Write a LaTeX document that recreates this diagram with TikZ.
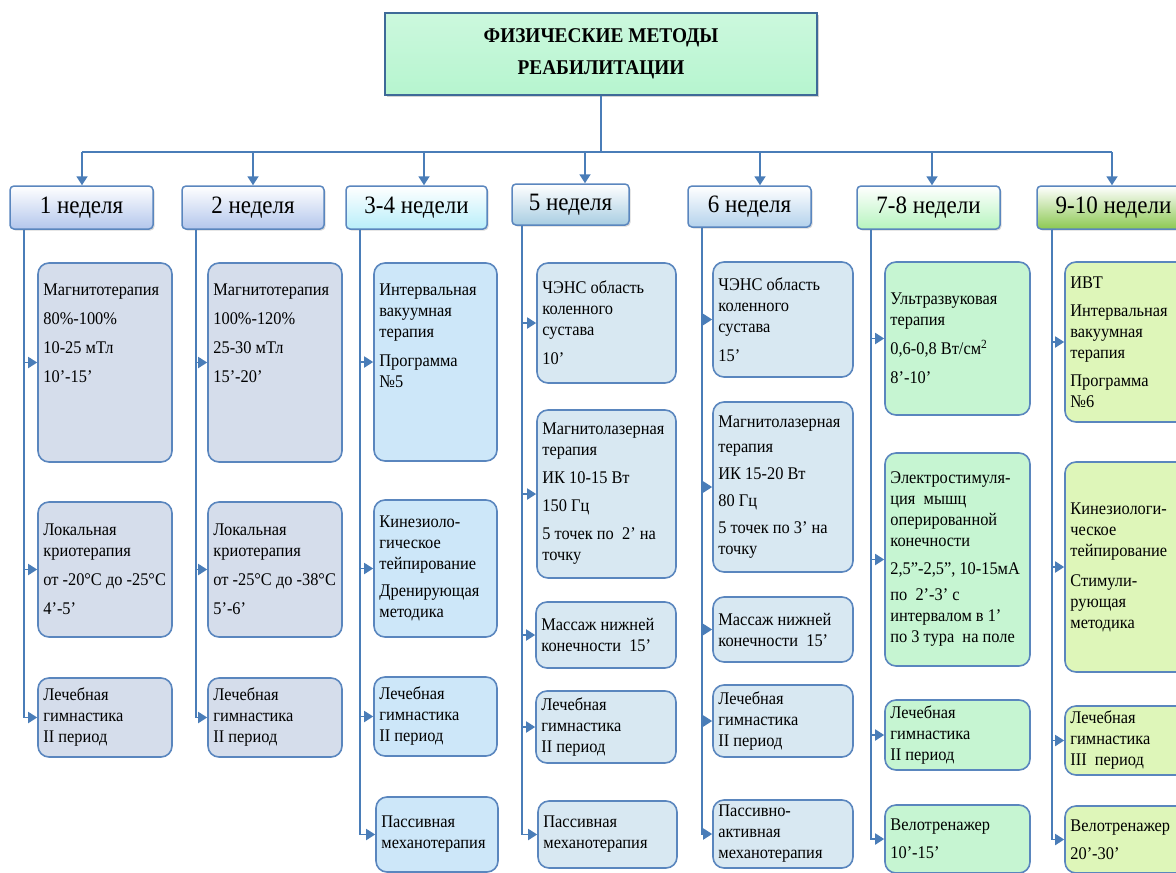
\documentclass[tikz,border=0pt]{standalone}
\usepackage{fontspec}
\setmainfont{Liberation Serif}[FakeStretch=0.92]
\usetikzlibrary{arrows.meta,shadows}
\definecolor{ln}{HTML}{4A7DB8}
\definecolor{bord}{HTML}{5A86BE}
\definecolor{titlefill}{HTML}{B6F5CF}
\definecolor{titlebord}{HTML}{3E6A98}
\definecolor{fA}{HTML}{D5DDEB}
\definecolor{fB}{HTML}{CDE7F9}
\definecolor{fC}{HTML}{D8E8F2}
\definecolor{fD}{HTML}{C6F5D2}
\definecolor{fE}{HTML}{DEF6B9}
\definecolor{wA}{HTML}{B3C6EC}
\definecolor{wB}{HTML}{B8EEFA}
\definecolor{wC}{HTML}{A8CDE2}
\definecolor{wD}{HTML}{B4D2EC}
\definecolor{wE}{HTML}{B6F4BE}
\definecolor{wF}{HTML}{8CC852}
\tikzset{
  conn/.style={draw=ln, line width=1.8pt},
  arr/.style={conn, -{Triangle[width=11pt,length=9pt]}},
  cbox/.style={draw=bord, line width=1.6pt, rounded corners=11pt, inner sep=0pt},
  wbox/.style={draw=bord, line width=1.5pt, rounded corners=4pt, inner sep=0pt,
     drop shadow={shadow xshift=1.5pt, shadow yshift=-1.5pt, opacity=0.3}},
  txt/.style={inner sep=0pt, align=left, font=\fontsize{17.8}{21}\selectfont},
  wtxt/.style={font=\fontsize{25}{29}\selectfont},
}
\newcommand\cbx[7]{%
  \node[cbox, fill=#6, minimum width={#4-#2}, minimum height={#5-#3}] (#1) at ({(#2+#4)/2},{(#3+#5)/2}) {};
  \node[txt, anchor=west] (#1t) at ([xshift=6pt]#1.west) {#7};}
\newcommand\tbx[7]{%
  \node[cbox, fill=#6, minimum width={#4-#2}, minimum height={#5-#3}] (#1) at ({(#2+#4)/2},{(#3+#5)/2}) {};
  \node[txt, anchor=north west] (#1t) at ([shift={(6pt,-21pt)}]#1.north west) {#7};}
\newcommand\wbx[7]{%
  \node[wbox, top color=white, bottom color=#6, minimum width={#4-#2}, minimum height={#5-#3}, wtxt] (#1) at ({(#2+#4)/2},{(#3+#5)/2}) {#7};}
\begin{document}
\begin{tikzpicture}[x=1pt,y=-1pt]
\useasboundingbox (0,0) rectangle (1176,873);
% title
\node[draw=titlebord, line width=2.5pt, top color=titlefill!70!white, bottom color=titlefill, minimum width=432, minimum height=82, align=center,
  font=\fontsize{21}{32}\selectfont\bfseries, drop shadow={shadow xshift=2pt, shadow yshift=-2pt, opacity=0.35}] (title) at (601,54)
  {ФИЗИЧЕСКИЕ МЕТОДЫ\\РЕАБИЛИТАЦИИ};
% week boxes
\wbx{w1}{10}{186}{153}{229}{wA}{1 неделя}
\wbx{w2}{182}{186}{324}{229}{wA}{2 неделя}
\wbx{w3}{346}{186}{487}{229}{wB}{3-4 недели}
\wbx{w5}{512}{184}{629}{225}{wC}{5 неделя}
\wbx{w6}{688}{186}{811}{227}{wD}{6 неделя}
\wbx{w7}{857}{186}{1000}{229}{wE}{7-8 недели}
\wbx{w9}{1037}{186}{1190}{229}{wF}{9-10 недели}
% bus
\coordinate (busL) at (82,152);
\coordinate (busR) at (1112,152);
\draw[conn] (busL) -- (busR);
\draw[conn] (title.south) -- (title.south |- busL);
\coordinate (d1) at (82,152);
\coordinate (d2) at (253,152);
\coordinate (d3) at (424,152);
\coordinate (d5) at (585,152);
\coordinate (d6) at (760,152);
\coordinate (d7) at (932,152);
\coordinate (d9) at (1112,152);
\draw[arr] (d1) -- (d1 |- w1.north);
\draw[arr] (d2) -- (d2 |- w2.north);
\draw[arr] (d3) -- (d3 |- w3.north);
\draw[arr] (d5) -- (d5 |- w5.north);
\draw[arr] (d6) -- (d6 |- w6.north);
\draw[arr] (d7) -- (d7 |- w7.north);
\draw[arr] (d9) -- (d9 |- w9.north);
% column 1
\tbx{c1a}{38}{263}{172}{462}{fA}{Магнитотерапия\\[8pt]80\%-100\%\\[8pt]10-25 мТл\\[8pt]10’-15’}
\cbx{c1b}{38}{502}{172}{637}{fA}{Локальная\\криотерапия\\[8pt]от -20°C до -25°C\\[8pt]4’-5’}
\cbx{c1c}{38}{678}{172}{757}{fA}{Лечебная\\гимнастика\\II период}
% column 2
\tbx{c2a}{208}{263}{342}{462}{fA}{Магнитотерапия\\[8pt]100\%-120\%\\[8pt]25-30 мТл\\[8pt]15’-20’}
\cbx{c2b}{208}{502}{342}{637}{fA}{Локальная\\криотерапия\\[8pt]от -25°C до -38°C\\[8pt]5’-6’}
\cbx{c2c}{208}{678}{342}{757}{fA}{Лечебная\\гимнастика\\II период}
% column 3
\tbx{c3a}{374}{263}{497}{461}{fB}{Интервальная\\вакуумная\\терапия\\[8pt]Программа\\№5}
\cbx{c3b}{374}{500}{497}{637}{fB}{Кинезиоло-\\гическое\\тейпирование\\[6pt]Дренирующая\\методика}
\cbx{c3c}{374}{677}{497}{756}{fB}{Лечебная\\гимнастика\\II период}
\cbx{c3d}{376}{797}{498}{872}{fB}{Пассивная\\механотерапия}
% column 5
\cbx{c5a}{537}{263}{676}{383}{fC}{ЧЭНС область\\коленного\\сустава\\[8pt]10’}
\cbx{c5b}{537}{410}{676}{578}{fC}{Магнитолазерная\\терапия\\[7pt]ИК 10-15 Вт\\[7pt]150 Гц\\[7pt]5 точек по\ \ 2’ на\\точку}
\cbx{c5c}{536}{602}{676}{668}{fC}{Массаж нижней\\конечности\ \ 15’}
\cbx{c5d}{536}{691}{676}{763}{fC}{Лечебная\\гимнастика\\II период}
\cbx{c5e}{538}{801}{677}{868}{fC}{Пассивная\\механотерапия}
% column 6
\cbx{c6a}{713}{262}{853}{377}{fC}{ЧЭНС область\\коленного\\сустава\\[8pt]15’}
\cbx{c6b}{713}{402}{853}{572}{fC}{Магнитолазерная\\[4pt]терапия\\[6pt]ИК 15-20 Вт\\[6pt]80 Гц\\[6pt]5 точек по 3’ на\\точку}
\cbx{c6c}{713}{597}{853}{662}{fC}{Массаж нижней\\конечности\ \ 15’}
\cbx{c6d}{713}{685}{853}{757}{fC}{Лечебная\\гимнастика\\II период}
\cbx{c6e}{713}{800}{853}{868}{fC}{Пассивно-\\активная\\механотерапия}
% column 7-8
\cbx{c7a}{885}{262}{1030}{415}{fD}{Ультразвуковая\\терапия\\[8pt]0,6-0,8 Вт/см\textsuperscript{2}\\[8pt]8’-10’}
\cbx{c7b}{885}{453}{1030}{666}{fD}{Электростимуля-\\ция\ \ мышц\\оперированной\\конечности\\[7pt]2,5”-2,5”, 10-15мА\\[5pt]по\ \ 2’-3’ с\\интервалом в 1’\\по 3 тура\ \ на поле}
\cbx{c7c}{885}{700}{1030}{770}{fD}{Лечебная\\гимнастика\\II период}
\cbx{c7d}{885}{805}{1030}{873}{fD}{Велотренажер\\[7pt]10’-15’}
% column 9-10
\cbx{c9a}{1065}{262}{1190}{422}{fE}{ИВТ\\[7pt]Интервальная\\вакуумная\\терапия\\[7pt]Программа\\№6}
\cbx{c9b}{1065}{462}{1190}{672}{fE}{Кинезиологи-\\ческое\\тейпирование\\[9pt]Стимули-\\рующая\\методика}
\cbx{c9c}{1065}{706}{1190}{775}{fE}{Лечебная\\гимнастика\\III\ \ период}
\cbx{c9d}{1065}{806}{1190}{873}{fE}{Велотренажер\\[7pt]20’-30’}
% stems
\coordinate (s1) at (24,0);
\coordinate (s2) at (196,0);
\coordinate (s3) at (360,0);
\coordinate (s5) at (522,0);
\coordinate (s6) at (702,0);
\coordinate (s7) at (871,0);
\coordinate (s9) at (1052,0);
\foreach \b in {c1a,c1b,c1c} \draw[arr] (w1.south -| s1) |- (\b.west);
\foreach \b in {c2a,c2b,c2c} \draw[arr] (w2.south -| s2) |- (\b.west);
\foreach \b in {c3a,c3b,c3c,c3d} \draw[arr] (w3.south -| s3) |- (\b.west);
\foreach \b in {c5a,c5b,c5c,c5d,c5e} \draw[arr] (w5.south -| s5) |- (\b.west);
\foreach \b in {c6a,c6b,c6c,c6d,c6e} \draw[arr] (w6.south -| s6) |- (\b.west);
\foreach \b in {c7a,c7b,c7c,c7d} \draw[arr] (w7.south -| s7) |- (\b.west);
\foreach \b in {c9a,c9b,c9c,c9d} \draw[arr] (w9.south -| s9) |- (\b.west);
\end{tikzpicture}
\end{document}
